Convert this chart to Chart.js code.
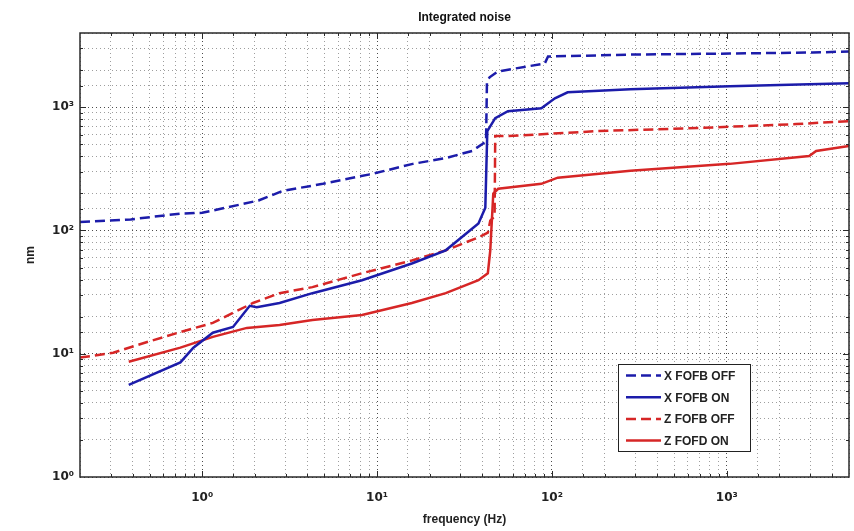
<!DOCTYPE html>
<html lang="en">
<head>
  <meta charset="UTF-8" />
  <title>Integrated noise</title>
  <script src="https://cdn.jsdelivr.net/npm/chart.js"></script>
  <style>
    html, body { margin: 0; padding: 0; background: #fff; }
    #chart-container { width: 854px; height: 531px; }
  </style>
</head>
<body>
  <div id="chart-container">
    <canvas id="noiseChart" width="854" height="531"></canvas>
  </div>

  <script>
    // values: frequency (Hz) and integrated noise (nm)
    const xOffFreq = [0.2, 0.39, 0.75, 1.0, 2.1, 2.9, 4.9, 9.4, 16, 25, 35, 40, 42, 42.5, 44, 49, 62, 91, 95, 280, 1040, 3100, 5000];
    const xOffNm   = [117, 123, 137, 139, 175, 210, 239, 288, 347, 388, 442, 503, 530, 1600, 1750, 1950, 2064, 2264, 2577, 2673, 2724, 2780, 2830];

    const xOnFreq = [0.38, 0.75, 0.89, 1.15, 1.5, 1.87, 2.05, 2.77, 4.27, 8.2, 15.8, 24.7, 38, 41.6, 42.7, 47.4, 56, 87, 104, 123, 281, 1040, 5000];
    const xOnNm   = [5.6, 8.5, 11.2, 14.8, 16.5, 24.5, 23.8, 25.8, 31, 39.5, 54, 69, 114, 153, 640, 815, 928, 982, 1182, 1321, 1397, 1476, 1562];

    const zOffFreq = [0.2, 0.31, 0.49, 0.75, 1.15, 1.95, 2.77, 4.27, 8.2, 15.8, 24.7, 38, 43, 44.4, 47, 47.4, 56, 182, 676, 2500, 5000];
    const zOffNm   = [9.3, 10.2, 12.5, 15, 17.8, 25.8, 31, 34.7, 45, 57, 69, 88, 96, 120, 130, 583, 583, 640, 677, 730, 771];

    const zOnFreq = [0.38, 0.75, 1.15, 1.8, 2.77, 4.27, 8.2, 15.8, 24.7, 38, 43, 44.4, 46.2, 49.3, 87, 108, 281, 1040, 2960, 3245, 5000];
    const zOnNm   = [8.6, 11.2, 13.7, 16.2, 17.1, 18.8, 20.6, 25.8, 31, 39.5, 45, 69, 199, 218, 239, 268, 305, 347, 402, 442, 484];

    const seriesLabels = ['X FOFB OFF', 'X FOFB ON', 'Z FOFB OFF', 'Z FOFD ON'];

    const blue = 'rgb(28, 28, 170)';
    const red = 'rgb(214, 38, 38)';
    const dash = [10, 5];

    const toPoints = (freq, nm) => freq.map((f, i) => ({ x: f, y: nm[i] }));

    const isDecade = v => Math.abs(Math.log10(v) - Math.round(Math.log10(v))) < 1e-6;
    const sup = { '-': '⁻', '0': '⁰', '1': '¹', '2': '²', '3': '³', '4': '⁴', '5': '⁵', '6': '⁶', '7': '⁷', '8': '⁸', '9': '⁹' };
    function powerLabel(v) {
      if (!isDecade(v)) return '';
      const e = String(Math.round(Math.log10(v)));
      return '10' + e.split('').map(c => sup[c]).join('');
    }

    const FONT = '"DejaVu Sans", "Liberation Sans", Arial, sans-serif';
    const LFONT = '"Liberation Sans", Arial, sans-serif';

    // box around the axes + inward tick marks (matlab style)
    const frameAndTicks = {
      id: 'frameAndTicks',
      afterDatasetsDraw(chart) {
        const { ctx, chartArea: a, scales } = chart;
        ctx.save();
        ctx.strokeStyle = '#2a2a2a';
        ctx.lineWidth = 1;
        ctx.beginPath();
        scales.x.ticks.forEach(t => {
          if (t.value <= scales.x.min || t.value >= scales.x.max) return;
          const px = Math.round(scales.x.getPixelForValue(t.value)) + 0.5;
          const len = isDecade(t.value) ? 6 : 3;
          ctx.moveTo(px, a.bottom); ctx.lineTo(px, a.bottom - len);
          ctx.moveTo(px, a.top); ctx.lineTo(px, a.top + len);
        });
        scales.y.ticks.forEach(t => {
          if (t.value <= scales.y.min || t.value >= scales.y.max) return;
          const py = Math.round(scales.y.getPixelForValue(t.value)) + 0.5;
          const len = isDecade(t.value) ? 6 : 3;
          ctx.moveTo(a.left, py); ctx.lineTo(a.left + len, py);
          ctx.moveTo(a.right, py); ctx.lineTo(a.right - len, py);
        });
        ctx.stroke();
        ctx.lineWidth = 1.5;
        ctx.strokeRect(a.left, a.top, a.right - a.left, a.bottom - a.top);
        ctx.restore();
      },
      afterDraw(chart) {
        const { ctx, chartArea: a } = chart;
        ctx.save();
        // title, centred over the axes
        ctx.fillStyle = '#111';
        ctx.font = 'bold 12px ' + LFONT;
        ctx.textAlign = 'center';
        ctx.textBaseline = 'middle';
        ctx.fillText('Integrated noise', (a.left + a.right) / 2, 18);

        // legend box in the lower right corner
        const x0 = a.right - 231, y0 = a.bottom - 113, w = 132, h = 87;
        ctx.fillStyle = '#fff';
        ctx.fillRect(x0, y0, w, h);
        ctx.strokeStyle = '#222';
        ctx.lineWidth = 1;
        ctx.strokeRect(x0 + 0.5, y0 + 0.5, w, h);
        ctx.font = 'bold 12px ' + LFONT;
        ctx.textAlign = 'left';
        chart.data.datasets.forEach((ds, i) => {
          const y = y0 + 11.5 + i * 21.7;
          ctx.strokeStyle = ds.borderColor;
          ctx.lineWidth = ds.borderWidth;
          ctx.setLineDash(ds.borderDash || []);
          ctx.beginPath();
          ctx.moveTo(x0 + 8, y); ctx.lineTo(x0 + 43, y);
          ctx.stroke();
          ctx.setLineDash([]);
          ctx.fillStyle = '#222';
          ctx.fillText(ds.label, x0 + 46, y + 1);
        });
        ctx.restore();
      }
    };

    const gridColor = ctx => (ctx.tick && isDecade(ctx.tick.value)) ? 'rgba(0,0,0,0.7)' : 'rgba(0,0,0,0.38)';

    const chart = new Chart(document.getElementById('noiseChart'), {
      type: 'line',
      data: {
        datasets: [
          { label: seriesLabels[0], data: toPoints(xOffFreq, xOffNm), borderColor: blue, borderDash: dash, borderWidth: 2.5 },
          { label: seriesLabels[1], data: toPoints(xOnFreq, xOnNm), borderColor: blue, borderWidth: 2.5 },
          { label: seriesLabels[2], data: toPoints(zOffFreq, zOffNm), borderColor: red, borderDash: dash, borderWidth: 2.5 },
          { label: seriesLabels[3], data: toPoints(zOnFreq, zOnNm), borderColor: red, borderWidth: 2.5 }
        ]
      },
      options: {
        responsive: false,
        animation: false,
        layout: { padding: { left: 0, right: 5, top: 33, bottom: 0 } },
        elements: { point: { radius: 0 }, line: { tension: 0, fill: false } },
        plugins: {
          legend: { display: false },
          tooltip: { enabled: false }
        },
        scales: {
          x: {
            type: 'logarithmic',
            min: 0.2,
            max: 5000,
            afterFit: s => { s.height = 54; s.paddingLeft = 0; s.paddingRight = 0; },
            grid: { color: gridColor, lineWidth: 1, drawTicks: false },
            border: { display: false, dash: [1, 3] },
            ticks: {
              autoSkip: false, maxRotation: 0, padding: 14, color: '#222',
              font: { family: FONT, size: 12, weight: 'bold' },
              callback: v => powerLabel(v)
            },
            title: {
              display: true, text: 'frequency (Hz)', color: '#222',
              font: { family: LFONT, size: 12, weight: 'bold' },
              padding: { top: 0, bottom: 4 }
            }
          },
          y: {
            type: 'logarithmic',
            min: 1,
            max: 4000,
            afterFit: s => { s.width = 80; s.paddingTop = 0; s.paddingBottom = 0; },
            grid: { color: gridColor, lineWidth: 1, drawTicks: false },
            border: { display: false, dash: [1, 3] },
            ticks: {
              autoSkip: false, padding: 6, color: '#222',
              font: { family: FONT, size: 12, weight: 'bold' },
              callback: v => powerLabel(v)
            },
            title: {
              display: true, text: 'nm', color: '#222',
              font: { family: LFONT, size: 12, weight: 'bold' },
              padding: { top: 23, bottom: 0 }
            }
          }
        }
      },
      plugins: [frameAndTicks]
    });
  </script>
</body>
</html>
